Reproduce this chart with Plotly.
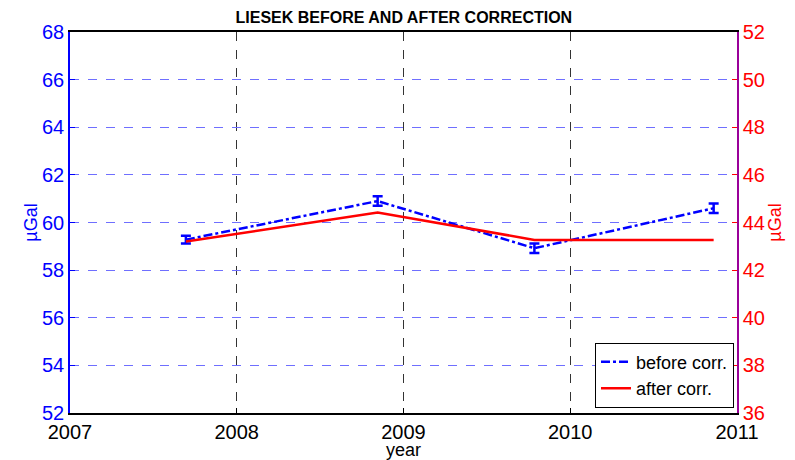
import plotly.graph_objects as go

# data
years = [2007.695, 2008.845, 2009.785, 2010.86]
before_corr = [59.28, 60.9, 58.92, 60.6]
before_err = [0.16, 0.2, 0.2, 0.2]
after_years = [2007.695, 2008.845, 2009.785, 2010.86]
after_corr = [43.2, 44.42, 43.27, 43.27]

x_ticks = [2007, 2008, 2009, 2010, 2011]
left_ticks = list(range(52, 69, 2))
right_ticks = list(range(36, 53, 2))

font = "Liberation Sans, Arial, sans-serif"

fig = go.Figure()

fig.add_trace(go.Scatter(
    x=years, y=before_corr, mode='lines', name='before corr.',
    line=dict(color='#0000ff', width=2.5, dash='dashdot'),
    error_y=dict(type='data', array=before_err, visible=True,
                 color='#0000ff', thickness=2.5, width=5),
    yaxis='y'))

fig.add_trace(go.Scatter(
    x=after_years, y=after_corr, mode='lines', name='after corr.',
    line=dict(color='#ff0000', width=2.5),
    yaxis='y2'))

fig.update_layout(
    width=795, height=460,
    margin=dict(l=70, r=58, t=32, b=47),
    paper_bgcolor='white', plot_bgcolor='white',
    font=dict(family=font, color='black'),
    title=dict(text='<b>LIESEK BEFORE AND AFTER CORRECTION</b>',
               x=0.508, xanchor='center', y=0.963, yanchor='middle',
               font=dict(size=16, color='black')),
    xaxis=dict(range=[2007, 2011], tickvals=x_ticks,
               ticktext=[str(t) for t in x_ticks],
               tickfont=dict(size=20, color='black'),
               showgrid=True, gridcolor='#333333', griddash='dash', gridwidth=1,
               showline=True, linecolor='black', linewidth=1.5, mirror=True,
               ticks='inside', ticklen=5, tickcolor='black',
               title=dict(text='year', font=dict(size=18), standoff=0),
               automargin=False, zeroline=False),
    yaxis=dict(range=[52, 68], tickvals=left_ticks,
               tickfont=dict(size=20, color='#0000ff'),
               showgrid=True, gridcolor='#6f6fff', griddash='dash', gridwidth=1,
               showline=True, linecolor='#0000ff', linewidth=1.5,
               ticks='inside', ticklen=5, tickcolor='#0000ff',
               title=dict(text='µGal', font=dict(size=18, color='#0000ff'), standoff=0),
               automargin=False, zeroline=False),
    yaxis2=dict(range=[36, 52], tickvals=right_ticks,
                overlaying='y', side='right',
                tickfont=dict(size=20, color='#ff0000'),
                showgrid=False,
                showline=True, linecolor='#990099', linewidth=1.5,
                ticks='inside', ticklen=5, tickcolor='#ff0000',
                title=dict(text='µGal', font=dict(size=18, color='#ff0000'), standoff=2),
                automargin=False, zeroline=False),
    legend=dict(x=0.9955, xanchor='right', y=0.014, yanchor='bottom',
                bgcolor='white', bordercolor='black', borderwidth=1,
                font=dict(size=18, color='black'),
                tracegroupgap=0, itemwidth=30),
    showlegend=True,
)

# drop the browser's default 8px body margin so the figure sits at 0,0
fig.write_html("out.html", config={"displayModeBar": False},
               post_script="document.body.style.margin='0';")
